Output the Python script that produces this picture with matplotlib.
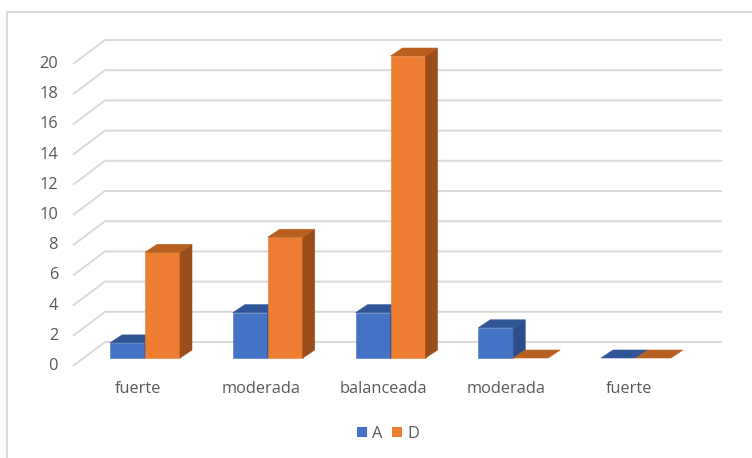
import matplotlib
matplotlib.use("Agg")
import matplotlib.pyplot as plt
from matplotlib.patches import Polygon, Rectangle, Patch
from matplotlib.lines import Line2D

categories = ["fuerte", "moderada", "balanceada", "moderada", "fuerte"]
series_names = ["A", "D"]
values_A = [1, 3, 3, 2, 0]
values_D = [7, 8, 20, 0, 0]
y_ticks = [0, 2, 4, 6, 8, 10, 12, 14, 16, 18, 20]

front_colors = ["#4472C4", "#ED7D31"]
top_colors = ["#2F5597", "#B8601F"]
side_colors = ["#2C4D8A", "#9A4E1C"]
grid_color = "#D9D9D9"
text_color = "#595959"
font = "Open Sans"
fsize = 11.8

W, H = 752, 458
fig = plt.figure(figsize=(W / 100, H / 100), dpi=100)
ax = fig.add_axes([0, 0, 1, 1])
# pixel mapping: category unit = 122.75 px, value unit = 15.1 px
px_x, px_y = 122.75, 15.1
x0_px, y0_px = 145, 358
ax.set_xlim(-x0_px / px_x, (W - x0_px) / px_x)
ax.set_ylim(-(H - y0_px) / px_y, y0_px / px_y)
ax.axis("off")

# depth parameters (data units)
bar_w = 35 / px_x
bdx, bdy = 12 / px_x, 8 / px_y
floor_front_dy = -8 / px_y
wall_dy = 16 / px_y
diag_x0, diag_x1 = (73 - x0_px) / px_x, (105 - x0_px) / px_x
grid_x_end = (722 - x0_px) / px_x

# gridlines (3D wall)
for v in y_ticks:
    ax.plot([diag_x0, diag_x1, grid_x_end],
            [v + floor_front_dy, v + wall_dy, v + wall_dy],
            color=grid_color, lw=1.4, zorder=1, solid_capstyle="butt")
    ax.text(diag_x0 - 15 / px_x, v + floor_front_dy, str(v), ha="right", va="center",
            fontsize=fsize, color=text_color, family=font)

# bars
all_vals = [values_A, values_D]
for i in range(len(categories)):
    for s, vals in enumerate(all_vals):
        v = vals[i]
        x0 = i - bar_w + s * bar_w
        z = 2 + s
        if v > 0:
            ax.add_patch(Rectangle((x0, 0), bar_w, v, facecolor=front_colors[s],
                                   edgecolor=front_colors[s], lw=0.4, zorder=z))
            ax.add_patch(Polygon([(x0 + bar_w, 0), (x0 + bar_w, v),
                                  (x0 + bar_w + bdx, v + bdy), (x0 + bar_w + bdx, bdy)],
                                 closed=True, facecolor=side_colors[s],
                                 edgecolor=side_colors[s], lw=0.4, zorder=z))
        ax.add_patch(Polygon([(x0, v), (x0 + bar_w, v), (x0 + bar_w + bdx, v + bdy),
                              (x0 + bdx, v + bdy)], closed=True,
                             facecolor=top_colors[s], edgecolor=top_colors[s],
                             lw=0.4, zorder=z))

# category labels
for i, c in enumerate(categories):
    ax.text(i - 7 / px_x, -31 / px_y, c, ha="center", va="center",
            fontsize=fsize, color=text_color, family=font)

# chart border
fig.add_artist(Line2D([6.5 / W, 6.5 / W, 1.0], [0, 1 - 11.5 / H, 1 - 11.5 / H],
                      transform=fig.transFigure, color=grid_color, lw=1.5))

handles = [Patch(facecolor=front_colors[k], edgecolor="none", label=series_names[k])
           for k in range(2)]
fig.legend(handles=handles, loc="center", bbox_to_anchor=(388 / W, 1 - 434 / H),
           ncol=2, frameon=False, handlelength=0.6, handleheight=0.6,
           handletextpad=0.3, columnspacing=0.6,
           prop={"family": font, "size": fsize}, labelcolor=text_color)

fig.savefig("out.png", dpi=100)
